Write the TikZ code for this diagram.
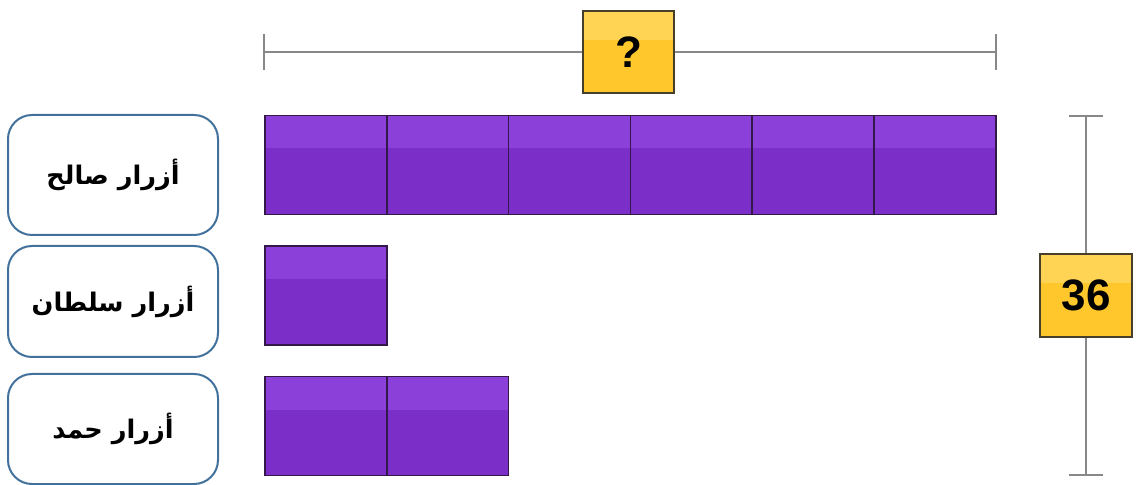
\documentclass[tikz,border=0pt]{standalone}
\usepackage{fontspec}
\setmainfont{Liberation Sans}
\newfontfamily\arabicfont[Script=Arabic]{DejaVu Sans}
\TeXXeTstate=1

\definecolor{celltop}{RGB}{139,64,217}
\definecolor{cellbot}{RGB}{124,47,200}
\definecolor{cellline}{RGB}{52,24,74}
\definecolor{yeltop}{RGB}{255,212,84}
\definecolor{yelbot}{RGB}{255,199,44}
\definecolor{yelline}{RGB}{72,62,44}
\definecolor{scalegray}{RGB}{136,136,136}
\definecolor{namecol}{RGB}{66,113,156}

\tikzset{
  cell/.style={draw=cellline, line width=0.8pt, fill=cellbot,
    minimum width=60.9pt, minimum height=49.5pt, inner sep=0pt,
    path picture={\fill[celltop] (path picture bounding box.north west)
      rectangle ([yshift=-16.5pt]path picture bounding box.north east);}},
  valbox/.style={draw=yelline, line width=0.8pt, fill=yelbot,
    minimum width=45.5pt, minimum height=41pt, inner sep=0pt,
    font=\bfseries\fontsize{22}{22}\selectfont,
    path picture={\fill[yeltop] (path picture bounding box.north west)
      rectangle ([yshift=-14.5pt]path picture bounding box.north east);}},
  namebox/.style={draw=namecol, line width=1pt, rounded corners=12pt,
    minimum width=105pt, inner sep=0pt,
    font=\arabicfont\bfseries\fontsize{12.8}{13}\selectfont},
  scale line/.style={draw=scalegray, line width=1.1pt}
}

\begin{document}
\begin{tikzpicture}[x=0.5pt,y=-0.5pt]
  \useasboundingbox (0,0) rectangle (1138,485);

  % Names
  \node[namebox, minimum height=60pt] (salih) at (113,175) {\beginR أزرار صالح\endR};
  \node[namebox, minimum height=55.5pt] (sultan) at (113,301.5) {\beginR أزرار سلطان\endR};
  \node[namebox, minimum height=55pt] (hamad) at (113,429) {\beginR أزرار حمد\endR};

  % Bars
  \foreach \i in {1,...,6}
    \node[cell] (salih\i) at ({265+121.8*(\i-0.5)},165) {};
  \node[cell] (sultan1) at ({265+121.8*0.5},295.5) {};
  \foreach \i in {1,2}
    \node[cell] (hamad\i) at ({265+121.8*(\i-0.5)},426) {};

  % Top scale
  \coordinate (topleft) at (264,52);
  \coordinate (topright) at (996,52);
  \node[valbox] (whole) at (628.5,52) {?};
  \draw[scale line] (topleft) -- (whole) -- (topright);
  \draw[scale line] ([yshift=9pt]topleft) -- ([yshift=-9pt]topleft);
  \draw[scale line] ([yshift=9pt]topright) -- ([yshift=-9pt]topright);

  % Side scale
  \coordinate (sidetop) at (1086,116);
  \coordinate (sidebot) at (1086,475);
  \node[valbox, minimum width=46pt, minimum height=41.5pt] (total) at (1086,295.5) {36};
  \draw[scale line] (sidetop) -- (total) -- (sidebot);
  \draw[scale line] ([xshift=-8.5pt]sidetop) -- ([xshift=8.5pt]sidetop);
  \draw[scale line] ([xshift=-8.5pt]sidebot) -- ([xshift=8.5pt]sidebot);
\end{tikzpicture}
\end{document}
